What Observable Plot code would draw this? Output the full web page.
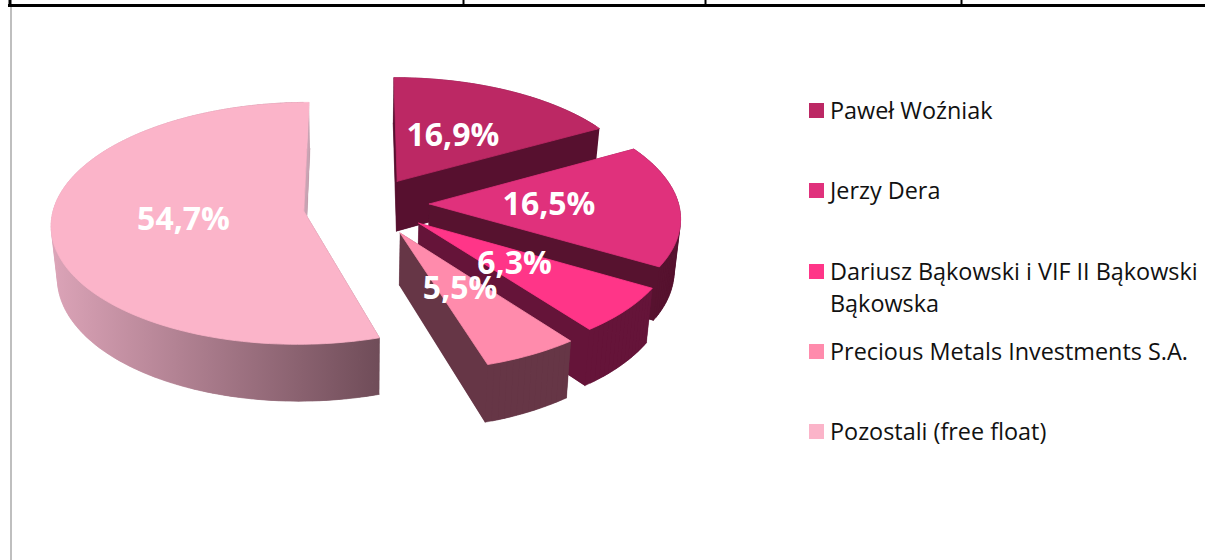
<!DOCTYPE html>
<html>
<head>
<meta charset="utf-8">
<script src="https://cdn.jsdelivr.net/npm/d3@7"></script>
<script src="https://cdn.jsdelivr.net/npm/@observablehq/plot@0.6"></script>
<style>
html,body{margin:0;padding:0;background:#fff;width:1205px;height:560px;overflow:hidden}
#chart{position:relative;width:1205px;height:560px}
#chart svg{position:absolute;left:0;top:0}
#legend{position:absolute;left:809px;top:70px;font:23.4px/32px "Open Sans",sans-serif;color:#111}
.row{height:80.3px;position:relative;white-space:nowrap}
.sw{position:absolute;left:0;top:33px;width:15px;height:15px}
.tx{position:absolute;left:21px;top:24px}
</style>
</head>
<body>
<div id="chart"></div>
<script>
// Data
const categories = ["Paweł Woźniak","Jerzy Dera","Dariusz Bąkowski i VIF II Bąkowski Bąkowska","Precious Metals Investments S.A.","Pozostali (free float)"];
const legendLines = [["Paweł Woźniak"],["Jerzy Dera"],["Dariusz Bąkowski i VIF II Bąkowski","Bąkowska"],["Precious Metals Investments S.A."],["Pozostali (free float)"]];
const shares = [16.9,16.5,6.3,5.5,54.7];
const topColors = ["#bc2864","#e0317c","#ff3588","#ff8bac","#fbb4c9"];
const wallColors = ["#57102f","#57122f","#651439","#663646","url(#wall5)"];
const innerWallColors = ["#57102f","#57122f","#651439","#663646","#c9a3b3"];
const tableColumnEdges = [463,705,961];

// Pie layout
const W = 1205, H = 560;
const view = {cx:360, cy:207, rx:250, ry:119, persp:0.10, depth:51, shrink:0.98};
const explodeX = [0.15,0.276,0.23,0.155,-0.226];
const explodeY = [0.225,0.03,-0.13,-0.21,-0.031];
const labelRadius = 0.48;

function project(X,Y,bottom){
  const w = 1/(1+view.persp*Y);
  let x = view.cx + view.rx*X*w, y = view.cy - view.ry*Y*w;
  if(bottom){ x = view.cx + (x-view.cx)*view.shrink; y += view.depth*w; }
  return [x,y];
}
const total = d3.sum(shares);
let acc = 0;
const slices = shares.map((v,i)=>{
  const a0 = acc/total*2*Math.PI; acc += v; const a1 = acc/total*2*Math.PI;
  return {i,v,a0,a1,mid:(a0+a1)/2,ex:explodeX[i],ey:explodeY[i]};
});
function outline(s){
  const n = Math.ceil((s.a1-s.a0)*40);
  const pts = [[s.ex,s.ey]];
  for(let k=0;k<=n;k++){
    const a = s.a0+(s.a1-s.a0)*k/n;
    pts.push([s.ex+Math.sin(a),s.ey+Math.cos(a)]);
  }
  return pts;
}
const quad = (p,q,id)=>[[p,1],[q,1],[q,0],[p,0]].map(([c,b])=>{
  const [x,y]=project(c[0],c[1],b); return {id,x,y};
});
// outer and front walls, plus the floor of the slice
const wallRows = s=>{
  const pts = outline(s), rows=[];
  pts.forEach(c=>{const [x,y]=project(c[0],c[1],1); rows.push({id:s.i+"-b",x,y});});
  for(let k=0;k<pts.length-2;k++) rows.push(...quad(pts[k],pts[k+1],s.i+"-"+k));
  return rows;
};
// the radial wall that closes the slice, lit differently on the large slice
const innerWallRows = s=>{
  const pts = outline(s);
  return quad(pts[pts.length-1],pts[0],s.i+"-in");
};
const topRows = s=>{const pts=outline(s); return [...pts,pts[0]].map(c=>{const [x,y]=project(c[0],c[1],0);return {x,y};});};
const labels = slices.map(s=>{
  const [x,y]=project(s.ex+labelRadius*Math.sin(s.mid),s.ey+labelRadius*Math.cos(s.mid),0);
  return {x,y,text:s.v.toFixed(1).replace(".",",")+"%"};
});

const gradient = ()=>{
  const defs = d3.create("svg:defs");
  const g = defs.append("linearGradient").attr("id","wall5").attr("gradientUnits","userSpaceOnUse")
    .attr("x1",50).attr("x2",380).attr("y1",0).attr("y2",0);
  g.append("stop").attr("offset",0).attr("stop-color","#dca4b8");
  g.append("stop").attr("offset",1).attr("stop-color","#6f4c58");
  return defs.node();
};

const sliceMarks = slices.flatMap(s=>[
  Plot.line(wallRows(s),{x:"x",y:"y",z:"id",fill:wallColors[s.i],stroke:wallColors[s.i],strokeWidth:0.4,curve:"linear"}),
  Plot.line(innerWallRows(s),{x:"x",y:"y",z:"id",fill:innerWallColors[s.i],stroke:innerWallColors[s.i],strokeWidth:0.4,curve:"linear"}),
  Plot.line(topRows(s),{x:"x",y:"y",fill:topColors[s.i],stroke:topColors[s.i],strokeWidth:0.8,curve:"linear"})
]);

const chart = Plot.plot({
  width:W,height:H,margin:0,
  x:{domain:[0,W],range:[0,W],axis:null},
  y:{domain:[0,H],range:[0,H],axis:null},
  style:{background:"transparent"},
  marks:[
    gradient,
    Plot.ruleX([10.5],{y1:6,y2:H,stroke:"#aaa",strokeWidth:1.5}),
    Plot.ruleY([5],{x1:8,x2:W,stroke:"#000",strokeWidth:3}),
    Plot.ruleX([9.5],{y1:0,y2:6,stroke:"#000",strokeWidth:3}),
    Plot.ruleX(tableColumnEdges,{y1:0,y2:5,stroke:"#000",strokeWidth:2}),
    ...sliceMarks,
    Plot.text(labels,{x:"x",y:"y",text:"text",fill:"#fff",fontSize:32,fontWeight:700,fontFamily:"'Open Sans',sans-serif"})
  ]
});
const root = document.getElementById("chart");
root.append(chart);
const legend = d3.select(root).append("div").attr("id","legend");
const rows = legend.selectAll(".row").data(categories).join("div").attr("class","row");
rows.append("div").attr("class","sw").style("background",(d,i)=>topColors[i]);
rows.append("div").attr("class","tx").html((d,i)=>legendLines[i].join("<br>"));
</script>
</body>
</html>
